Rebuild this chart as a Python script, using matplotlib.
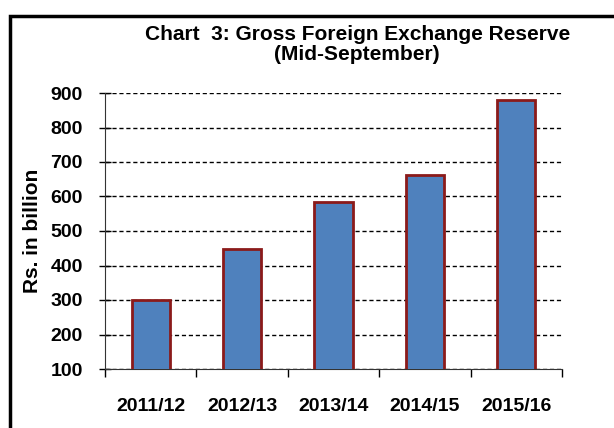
import matplotlib.pyplot as plt
from matplotlib.patches import Rectangle

years = ["2011/12", "2012/13", "2013/14", "2014/15", "2015/16"]
reserves = [300, 448, 585, 662, 880]
y_ticks = [100, 200, 300, 400, 500, 600, 700, 800, 900]

plt.rcParams['font.family'] = ['Liberation Sans', 'DejaVu Sans']

fig = plt.figure(figsize=(6.14, 4.28), dpi=100)
ax = fig.add_axes([105/614, 1 - 369/428, (562-105)/614, (369-93)/428])

# outer frame
fig.patches.append(Rectangle((10/614, -0.01), 1.0, (428-16)/428 + 0.01, transform=fig.transFigure,
                             fill=False, edgecolor='black', linewidth=2.5))

x = range(len(years))
ax.bar(x, reserves, width=0.42, color='#4F81BD', edgecolor='#8B1A1A', linewidth=2, zorder=3)

ax.set_xlim(-0.5, 4.5)
ax.set_ylim(100, 900)
ax.set_yticks(y_ticks)
ax.set_yticklabels([str(v) for v in y_ticks], fontsize=14, fontweight='bold')
ax.set_xticks(list(x))
ax.set_xticklabels(years, fontsize=14, fontweight='bold')
ax.set_xticks([i + 0.5 for i in range(-1, len(years))], minor=True)
ax.tick_params(axis='x', which='major', length=0, pad=21)
ax.tick_params(axis='x', which='minor', length=6, width=1, direction='out')
ax.tick_params(axis='y', length=8, width=1, direction='inout', pad=12)

ax.yaxis.grid(True, linestyle=(0, (3, 2)), color='black', linewidth=1, zorder=0)
ax.spines['top'].set_visible(False)
ax.spines['right'].set_visible(False)
ax.spines['left'].set_color('#333333')
ax.spines['bottom'].set_color('#333333')

ax.set_ylabel("Rs. in billion", fontsize=15, fontweight='bold', labelpad=6)
fig.text(358/614, 1 - 35/428, "Chart  3: Gross Foreign Exchange Reserve",
         ha='center', va='center', fontsize=15, fontweight='bold')
fig.text(357/614, 1 - 55/428, "(Mid-September)",
         ha='center', va='center', fontsize=15, fontweight='bold')

fig.savefig("out.png", dpi=100)
